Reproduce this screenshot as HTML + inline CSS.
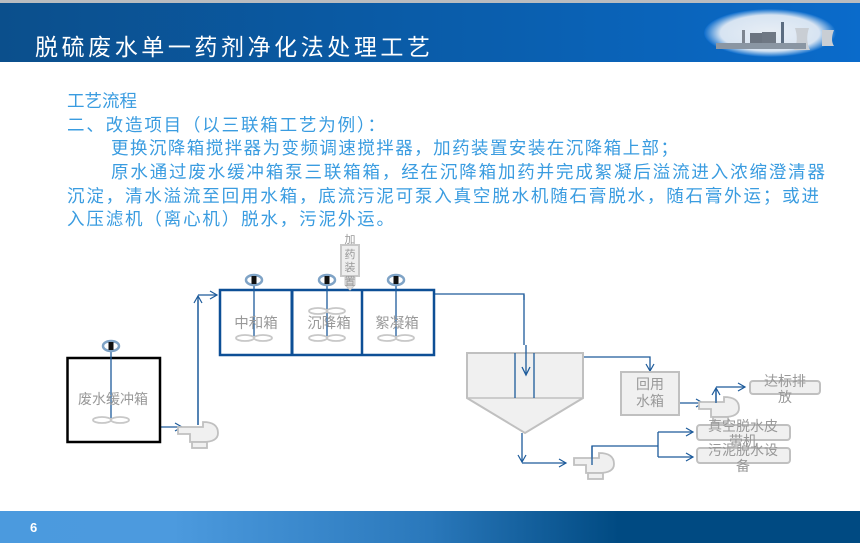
<!DOCTYPE html>
<html><head><meta charset="utf-8"><style>
html,body{margin:0;padding:0;background:#fff}
body{width:860px;height:543px;overflow:hidden;position:relative;font-family:"Liberation Sans","Noto Sans CJK SC",sans-serif}
</style></head><body>
<svg width="860" height="543" viewBox="0 0 860 543" xmlns="http://www.w3.org/2000/svg" style="position:absolute;left:0;top:0">
<defs>
<linearGradient id="hd" x1="0" x2="1" y1="0" y2="0"><stop offset="0" stop-color="#0b4f8c"/><stop offset="0.6" stop-color="#0a5faf"/><stop offset="1" stop-color="#0a6bcb"/></linearGradient>
<linearGradient id="ft" x1="0" x2="1" y1="0" y2="0"><stop offset="0" stop-color="#4b9ade"/><stop offset="0.2" stop-color="#4c9ade"/><stop offset="0.5" stop-color="#2a78bb"/><stop offset="0.72" stop-color="#004a82"/><stop offset="1" stop-color="#004a82"/></linearGradient>
<radialGradient id="pic" cx="0.5" cy="0.5" r="0.5"><stop offset="0" stop-color="#e8eef5"/><stop offset="0.75" stop-color="#d7e4f2"/><stop offset="1" stop-color="#0a6bcb"/></radialGradient>
<marker id="ar" markerWidth="10" markerHeight="10" refX="8" refY="5" orient="auto" markerUnits="userSpaceOnUse"><path d="M1,1 L8,5 L1,9" fill="none" stroke="#1d5b9b" stroke-width="1.2"/></marker>
<g id="pump"><path d="M-20,-3 L5,-3 L5,-8 Q20,-8 20,3 Q20,12 5,12 L-8,12 L-8,4 L-20,4 Z" fill="#f0f0f0" stroke="#c0c0c0" stroke-width="1.8"/><rect x="-6" y="12" width="15" height="6" fill="#f0f0f0" stroke="#c0c0c0" stroke-width="1.8"/></g>
<g id="mot"><ellipse cx="0" cy="0" rx="8" ry="5" fill="#fff" stroke="#7fa3c6" stroke-width="2.5"/><rect x="-2.5" y="-4" width="5" height="8" fill="#111"/></g>
<g id="imp"><ellipse cx="-9" cy="0" rx="9" ry="3" fill="none" stroke="#c8c8c8" stroke-width="1.8"/><ellipse cx="9" cy="0" rx="9" ry="3" fill="none" stroke="#c8c8c8" stroke-width="1.8"/></g>
</defs>
<rect x="0" y="0" width="860" height="3" fill="#b9bcc0"/>
<rect x="0" y="3" width="860" height="59" fill="url(#hd)"/>
<ellipse cx="770" cy="33" rx="66" ry="24" fill="url(#pic)"/>
<rect x="742" y="30" width="3" height="16" fill="#7d8590"/><rect x="781" y="22" width="3" height="26" fill="#5b6c80"/>
<rect x="750" y="33" width="12" height="15" fill="#6b7480"/><rect x="762" y="32" width="14" height="16" fill="#6f7884"/>
<path d="M795,28 L809,28 Q805,40 810,50 L794,50 Q799,40 795,28Z" fill="#c9ced4"/><path d="M822,30 L834,30 Q830,40 834,46 L822,46Z" fill="#c9ced4"/>
<rect x="716" y="43" width="90" height="6" fill="#8a96a3"/>
<text x="35" y="55" font-size="23" fill="#fff" textLength="395" font-family="Liberation Sans,Noto Sans CJK SC,sans-serif">脱硫废水单一药剂净化法处理工艺</text>
<g fill="#3a9ce0" font-size="17.5">
<text x="67" y="107">工艺流程</text>
<text x="67" y="131" textLength="318">二、改造项目（以三联箱工艺为例）：</text>
<text x="111" y="154" textLength="567">更换沉降箱搅拌器为变频调速搅拌器，加药装置安装在沉降箱上部；</text>
<text x="111" y="178" textLength="714">原水通过废水缓冲箱泵三联箱箱，经在沉降箱加药并完成絮凝后溢流进入浓缩澄清器</text>
<text x="67" y="202" textLength="752">沉淀，清水溢流至回用水箱，底流污泥可泵入真空脱水机随石膏脱水，随石膏外运；或进</text>
<text x="67" y="225" textLength="327">入压滤机（离心机）脱水，污泥外运。</text>
</g>
<g fill="none" stroke="#1d5b9b" stroke-width="1.3">
<path d="M160,427 L182,427" marker-end="url(#ar)"/>
<path d="M198,425 L198,296" marker-end="url(#ar)"/>
<path d="M198,295 L217,295" marker-end="url(#ar)"/>
<path d="M434,294 L524,294 L524,300"/>
<path d="M583,357 L650,357 L650,371" marker-end="url(#ar)"/>
<path d="M679,403 L703,403" marker-end="url(#ar)"/>
<path d="M716,403 L716,388" marker-end="url(#ar)"/>
<path d="M716,387 L745,387" marker-end="url(#ar)"/>
<path d="M522,433 L522,462" marker-end="url(#ar)"/>
<path d="M522,463 L566,463" marker-end="url(#ar)"/>
<path d="M592,465 L592,446 L658,446"/>
<path d="M658,432 L658,457"/>
<path d="M658,432 L693,432" marker-end="url(#ar)"/>
<path d="M658,457 L693,457" marker-end="url(#ar)"/>
</g>
<path d="M524,295 L524,345" stroke="#1d5b9b" stroke-width="1.3"/>
<rect x="67.5" y="358" width="92.5" height="84" fill="#fff" stroke="#000" stroke-width="2.5"/>
<line x1="111" y1="346" x2="111" y2="420" stroke="#1d5b9b" stroke-width="1.3"/>
<use href="#imp" x="111" y="420"/>
<use href="#mot" x="111" y="346"/>
<text x="113" y="404" font-size="14" fill="#999" text-anchor="middle">废水缓冲箱</text>
<use href="#pump" x="198" y="430"/>
<line x1="198" y1="425" x2="198" y2="300" stroke="#1d5b9b" stroke-width="1.3"/>
<rect x="220" y="290" width="214" height="65" fill="#fff" stroke="#0d4f96" stroke-width="2.5"/>
<line x1="292" y1="290" x2="292" y2="355" stroke="#0d4f96" stroke-width="3"/>
<line x1="362" y1="290" x2="362" y2="355" stroke="#0d4f96" stroke-width="2.5"/>
<g stroke="#1d5b9b" stroke-width="1.3"><line x1="254" y1="280" x2="254" y2="338"/><line x1="327" y1="280" x2="327" y2="338"/><line x1="396" y1="280" x2="396" y2="338"/></g>
<use href="#imp" x="254" y="338"/><use href="#imp" x="327" y="311"/><use href="#imp" x="327" y="338"/><use href="#imp" x="396" y="338"/>
<use href="#mot" x="254" y="280"/><use href="#mot" x="327" y="280"/><use href="#mot" x="396" y="280"/>
<g font-size="14.5" fill="#999" text-anchor="middle"><text x="256" y="328">中和箱</text><text x="329" y="328">沉降箱</text><text x="397" y="328">絮凝箱</text></g>
<rect x="341" y="245" width="18" height="31" fill="#eee" stroke="#c8c8c8" stroke-width="2"/>
<path d="M345,276 L355,276 L355,285 L350,290 L345,285Z" fill="#ddd" stroke="#c8c8c8"/>
<g font-size="11" fill="#999" text-anchor="middle"><text x="350" y="243">加</text><text x="350" y="258">药</text><text x="350" y="271">装</text><text x="350" y="285">置</text></g>
<path d="M467,353 L583,353 L583,398 L525,433 L467,398 Z" fill="#f0f0f0" stroke="#c0c0c0" stroke-width="2"/>
<line x1="467" y1="398" x2="583" y2="398" stroke="#c0c0c0" stroke-width="1.5"/>
<line x1="515" y1="353" x2="515" y2="398" stroke="#1d5b9b" stroke-width="1.3"/>
<line x1="534" y1="353" x2="534" y2="398" stroke="#1d5b9b" stroke-width="1.3"/>
<path d="M526,345 L526,374" stroke="#1d5b9b" stroke-width="1.3"/>
<path d="M522,367 L526,375 L530,367" fill="none" stroke="#1d5b9b" stroke-width="1.3"/>
<rect x="621" y="372" width="58" height="43" fill="#f0f0f0" stroke="#c0c0c0" stroke-width="2"/>
<g font-size="14" fill="#999" text-anchor="middle"><text x="650" y="389">回用</text><text x="650" y="406">水箱</text></g>
<use href="#pump" x="719" y="405"/>
<line x1="716" y1="403" x2="716" y2="390" stroke="#1d5b9b" stroke-width="1.3"/>
<rect x="750" y="381" width="70" height="13" rx="3" fill="#f0f0f0" stroke="#c0c0c0" stroke-width="2"/>
<g font-size="14" fill="#999" text-anchor="middle"><text x="785" y="386">达标排</text><text x="785" y="402">放</text></g>
<use href="#pump" x="594" y="461"/>
<line x1="592" y1="465" x2="592" y2="446" stroke="#1d5b9b" stroke-width="1.3"/>
<rect x="697" y="425" width="93" height="15" rx="3" fill="#f0f0f0" stroke="#c0c0c0" stroke-width="2"/>
<rect x="697" y="448" width="93" height="15" rx="3" fill="#f0f0f0" stroke="#c0c0c0" stroke-width="2"/>
<g font-size="14" fill="#999" text-anchor="middle"><text x="743" y="431">真空脱水皮</text><text x="743" y="446">带机</text><text x="743" y="455">污泥脱水设</text><text x="743" y="471">备</text></g>
<rect x="0" y="511" width="860" height="32" fill="url(#ft)"/>
<text x="30" y="532" font-size="13" fill="#fff" font-weight="bold">6</text>
</svg>
</body></html>
